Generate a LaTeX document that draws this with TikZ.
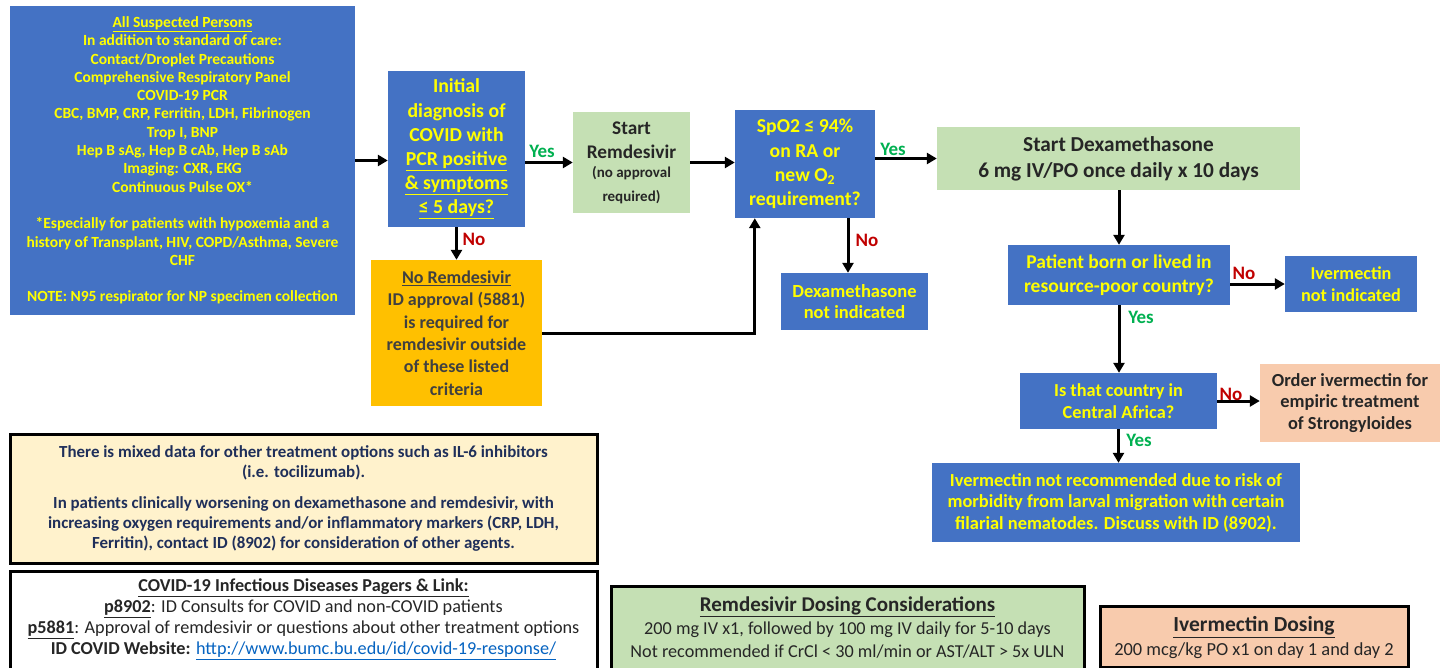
\documentclass[tikz,border=0pt]{standalone}
\usepackage{fontspec}
\setmainfont{Carlito}
\usetikzlibrary{arrows.meta,positioning,calc}
\definecolor{boxblue}{HTML}{4472C4}
\definecolor{txtyellow}{HTML}{FFFF00}
\definecolor{boxgreen}{HTML}{C5E0B4}
\definecolor{boxorange}{HTML}{FFC000}
\definecolor{boxpeach}{HTML}{F8CBAD}
\definecolor{boxnote}{HTML}{FFF2CC}
\definecolor{darktxt}{HTML}{262626}
\definecolor{graytxt}{HTML}{404040}
\definecolor{navytxt}{HTML}{1F2F5A}
\definecolor{yesgreen}{HTML}{00B050}
\definecolor{nored}{HTML}{C00000}
\definecolor{linkblue}{HTML}{0563C1}
\newcommand{\fsz}[2]{\fontsize{#1}{#2}\selectfont}
\tikzset{
  bx/.style={inner sep=0pt, align=center, font=\bfseries},
  bluebox/.style={bx, fill=boxblue, text=txtyellow},
  greenbox/.style={bx, fill=boxgreen, text=darktxt},
  peachbox/.style={bx, fill=boxpeach, text=darktxt},
  orangebox/.style={bx, fill=boxorange, text=graytxt},
  framed/.style={draw=black, line width=3pt, inner sep=0pt, align=center},
  plaintxt/.style={inner sep=0pt, align=center},
  arr/.style={line width=3pt, -{Triangle[length=10pt,width=11pt]}},
  yeslbl/.style={text=yesgreen, font=\bfseries\fsz{19}{20}, inner sep=0pt},
  nolbl/.style={text=nored, font=\bfseries\fsz{19}{20}, inner sep=0pt},
}
\begin{document}
\begin{tikzpicture}[x=1pt,y=-1pt]
\useasboundingbox (0,0) rectangle (1448,667);
% ---- top-left box
\node[bluebox, minimum width=345pt, minimum height=309pt, font=\bfseries\fsz{15.5}{18.3}] (all) at (182.5,160.5)
 {\underline{All Suspected Persons}\\
  In addition to standard of care:\\
  Contact/Droplet Precautions\\
  Comprehensive Respiratory Panel\\
  COVID-19 PCR\\
  CBC, BMP, CRP, Ferritin, LDH, Fibrinogen\\
  Trop I, BNP\\
  Hep B sAg, Hep B cAb, Hep B sAb\\
  Imaging: CXR, EKG\\
  Continuous Pulse OX*\\[18.3pt]
  *Especially for patients with hypoxemia and a\\
  history of Transplant, HIV, COPD/Asthma, Severe\\
  CHF\\[18.3pt]
  NOTE: N95 respirator for NP specimen collection};
% ---- initial diagnosis
\node[bluebox, minimum width=137pt, minimum height=156pt, font=\bfseries\fsz{19.8}{24.2}] (init) at (456.5,149)
 {Initial\\ diagnosis of\\ COVID with\\ \underline{PCR positive}\\ \underline{\& symptoms}\\ \underline{≤ 5 days?}};
% ---- start remdesivir
\node[greenbox, minimum width=117pt, minimum height=101pt, font=\bfseries\fsz{19.3}{24}] (rem) at (631.5,162.5)
 {Start\\ Remdesivir\\[-5pt] \fsz{15}{19.5}(no approval\\ \fsz{15}{19.5}required)};
% ---- SpO2
\node[bluebox, minimum width=140pt, minimum height=108pt, font=\bfseries\fsz{19.7}{24.3}] (spo) at (805,164)
 {SpO2 ≤ 94\%\\ on RA or\\ new O\textsubscript{2}\\ requirement?};
% ---- Dexamethasone
\node[greenbox, minimum width=363pt, minimum height=63pt, font=\bfseries\fsz{21.3}{26}] (dexa) at (1118.5,158.5)
 {Start Dexamethasone\\ 6 mg IV/PO once daily x 10 days};
% ---- born
\node[bluebox, minimum width=222pt, minimum height=60pt, font=\bfseries\fsz{19.5}{24}] (born) at (1119,275)
 {Patient born or lived in\\ resource-poor country?};
\node[bluebox, minimum width=132pt, minimum height=56pt, font=\bfseries\fsz{18.2}{21.5}] (ivni) at (1351,284)
 {Ivermectin\\ not indicated};
% ---- central africa
\node[bluebox, minimum width=197pt, minimum height=56pt, font=\bfseries\fsz{18.3}{22.5}] (cent) at (1118.5,401)
 {Is that country in\\ Central Africa?};
\node[peachbox, minimum width=180pt, minimum height=78pt, font=\bfseries\fsz{18.4}{21.5}] (order) at (1350,403)
 {Order ivermectin for\\ empiric treatment\\ of Strongyloides};
\node[bluebox, minimum width=368pt, minimum height=79pt, font=\bfseries\fsz{18.4}{21.5}] (notrec) at (1116,502.5)
 {Ivermectin not recommended due to risk of\\ morbidity from larval migration with certain\\ filarial nematodes. Discuss with ID (8902).};
% ---- no remdesivir
\node[orangebox, minimum width=171pt, minimum height=146pt, font=\bfseries\fsz{18}{22.4}] (norem) at (456.5,333)
 {\underline{No Remdesivir}\\ ID approval (5881)\\ is required for\\ remdesivir outside\\ of these listed\\ criteria};
% ---- dexa not indicated
\node[bluebox, minimum width=147pt, minimum height=57pt, font=\bfseries\fsz{18.5}{21.5}] (dexni) at (854.5,301.5)
 {Dexamethasone\\ not indicated};
% ---- note box
\node[framed, fill=boxnote, text=navytxt, minimum width=587pt, minimum height=129pt, font=\bfseries\fsz{16.9}{20.3}] (note) at (303.5,498.5)
 {There is mixed data for other treatment options such as IL-6 inhibitors\\
  (i.e. tocilizumab).\\[10.7pt]
  In patients clinically worsening on dexamethasone and remdesivir, with\\
  increasing oxygen requirements and/or inflammatory markers (CRP, LDH,\\
  Ferritin), contact ID (8902) for consideration of other agents.};
% ---- pagers box
\node[framed, fill=white, minimum width=587pt, minimum height=104pt, anchor=north] (pag) at (303.5,570) {};
\node[plaintxt, text=darktxt, font=\fsz{18.2}{21}] (pagtxt) at (303.5,619.5)
 {\textbf{\underline{COVID-19 Infectious Diseases Pagers \& Link:}}\\
  \textbf{\underline{p8902}}: ID Consults for COVID and non-COVID patients\\
  \textbf{\underline{p5881}}: Approval of remdesivir or questions about other treatment options\\
  \textbf{ID COVID Website:} \textcolor{linkblue}{\underline{http://www.bumc.bu.edu/id/covid-19-response/}}};
% ---- remdesivir dosing
\node[framed, fill=boxgreen, minimum width=473pt, minimum height=85pt, anchor=north] (rdose) at (847.5,585) {};
\node[plaintxt, text=darktxt, font=\fsz{18.2}{23}] (rdosetxt) at (847.5,627)
 {\textbf{\fsz{21}{23}\underline{Remdesivir Dosing Considerations}}\\
  \fsz{18.2}{22.5}200 mg IV x1, followed by 100 mg IV daily for 5-10 days\\
  Not recommended if CrCl < 30 ml/min or AST/ALT > 5x ULN};
% ---- ivermectin dosing
\node[framed, fill=boxpeach, minimum width=308pt, minimum height=61pt, anchor=north] (idose) at (1254,605) {};
\node[plaintxt, text=darktxt, font=\fsz{18.4}{24}] (idosetxt) at (1254,638)
 {\textbf{\fsz{21.5}{24}\underline{Ivermectin Dosing}}\\
  \fsz{18.4}{24}200 mcg/kg PO x1 on day 1 and day 2};
% ---- connectors
\draw[arr] (all.east) -- (all.east -| init.west);
\draw[arr] (init.east |- rem.west) -- (rem.west);
\draw[arr] (rem.east) -- (rem.east -| spo.west);
\draw[arr] (spo.east |- dexa.west) -- (dexa.west);
\draw[arr] (dexa.south -| born.north) -- (born.north);
\draw[arr] (born.east |- ivni.west) -- (ivni.west);
\draw[arr] (born.south) -- (born.south |- cent.north);
\draw[arr] (cent.east) -- (cent.east -| order.west);
\draw[arr] (cent.south) -- (cent.south |- notrec.north);
\draw[arr] (init.south) -- (init.south |- norem.north);
\draw[arr] (norem.east) -| ([xshift=20pt]spo.south west);
\draw[arr] ([xshift=43pt]spo.south) -- ([xshift=43pt]spo.south |- dexni.north);
% ---- labels
\node[yeslbl] (y1) at (542,151) {Yes};
\node[yeslbl] (y2) at (893,149) {Yes};
\node[yeslbl] (y3) at (1141,317) {Yes};
\node[yeslbl] (y4) at (1139,440) {Yes};
\node[nolbl] (n1) at (474,239) {No};
\node[nolbl] (n2) at (867,240) {No};
\node[nolbl] (n3) at (1244,273) {No};
\node[nolbl] (n4) at (1231,394) {No};
\end{tikzpicture}
\end{document}
